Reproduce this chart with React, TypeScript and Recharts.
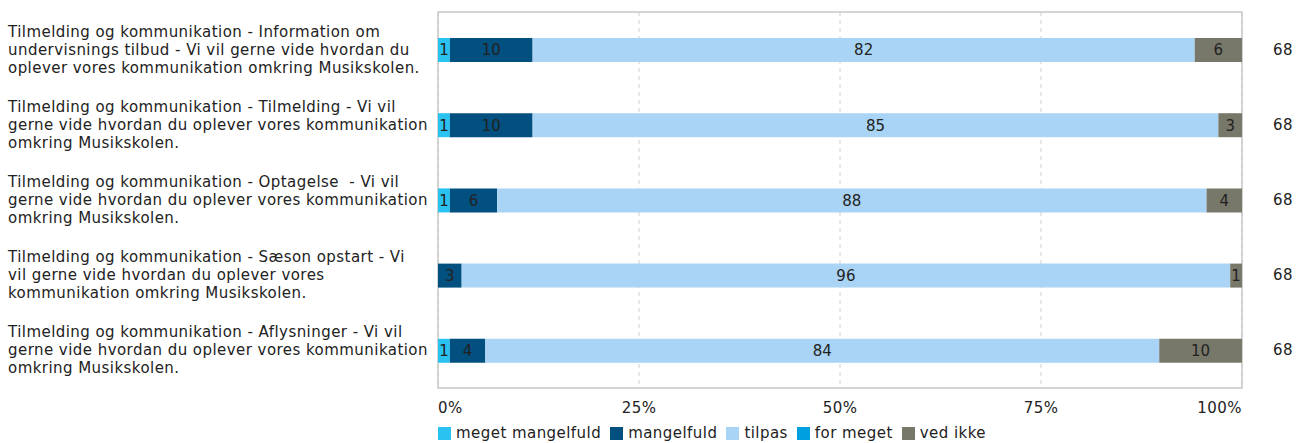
import React from 'react';
import { BarChart, Bar, XAxis, YAxis, CartesianGrid, Legend, LabelList, ReferenceArea } from 'recharts';

// questions, one line of the label per string
const questions = [
    ['Tilmelding og kommunikation - Information om', 'undervisnings tilbud - Vi vil gerne vide hvordan du', 'oplever vores kommunikation omkring Musikskolen.'],
    ['Tilmelding og kommunikation - Tilmelding - Vi vil', 'gerne vide hvordan du oplever vores kommunikation', 'omkring Musikskolen.'],
    ['Tilmelding og kommunikation - Optagelse  - Vi vil', 'gerne vide hvordan du oplever vores kommunikation', 'omkring Musikskolen.'],
    ['Tilmelding og kommunikation - Sæson opstart - Vi', 'vil gerne vide hvordan du oplever vores', 'kommunikation omkring Musikskolen.'],
    ['Tilmelding og kommunikation - Aflysninger - Vi vil', 'gerne vide hvordan du oplever vores kommunikation', 'omkring Musikskolen.'],
];

// number of answers per category
const megetMangelfuld = [1, 1, 1, 0, 1];
const mangelfuld = [7, 7, 4, 2, 3];
const tilpas = [56, 58, 60, 65, 57];
const forMeget = [0, 0, 0, 0, 0];
const vedIkke = [4, 2, 3, 1, 7];

const xTicks = [0, 0.25, 0.5, 0.75, 1];

const series = [
    { key: 'mm', name: 'meget mangelfuld', color: '#2ac3f1', values: megetMangelfuld },
    { key: 'm', name: 'mangelfuld', color: '#02507f', values: mangelfuld },
    { key: 't', name: 'tilpas', color: '#a9d4f5', values: tilpas },
    { key: 'fm', name: 'for meget', color: '#009fe0', values: forMeget },
    { key: 'vi', name: 'ved ikke', color: '#78786a', values: vedIkke },
];

const FONT = '"DejaVu Sans", Verdana, sans-serif';
const TEXT = '#222';
const LS = 0.45;

const data = questions.map((lines, i) => {
    const total = series.reduce((s, se) => s + se.values[i], 0);
    const row: any = { name: lines.join(' '), lines, total };
    series.forEach((se) => {
        row[se.key] = se.values[i];
        row['p_' + se.key] = se.values[i] > 0 ? String(Math.round((se.values[i] / total) * 100)) : '';
    });
    return row;
});

const LeftTick = (props: any) => {
    const { y, payload } = props;
    const row = data.find((d) => d.name === payload.value);
    const lines: string[] = row ? row.lines : [payload.value];
    const lh = 18;
    const start = y - ((lines.length - 1) * lh) / 2;
    return (
        <text x={8} y={start} fill={TEXT} fontSize={15} fontFamily={FONT} letterSpacing={LS} textAnchor="start" dominantBaseline="central" style={{ whiteSpace: 'pre' }}>
            {lines.map((l, i) => (
                <tspan key={i} x={8} y={start + i * lh}>{l}</tspan>
            ))}
        </text>
    );
};

const RightTick = (props: any) => {
    const { y, payload } = props;
    const row = data.find((d) => d.name === payload.value);
    return (
        <text x={1283} y={y} fill={TEXT} fontSize={15} fontFamily={FONT} letterSpacing={LS} textAnchor="middle" dominantBaseline="central">
            {row ? row.total : ''}
        </text>
    );
};

const XTick = (props: any) => {
    const { x, y, payload } = props;
    const v = payload.value;
    const anchor = v === 0 ? 'start' : v === 1 ? 'end' : 'middle';
    return (
        <text x={x} y={y + 12} fill={TEXT} fontSize={15} fontFamily={FONT} letterSpacing={LS} textAnchor={anchor} dominantBaseline="central">
            {Math.round(v * 100) + '%'}
        </text>
    );
};

const LegendContent = () => (
    <div style={{ display: 'flex', fontFamily: FONT, fontSize: 15, lineHeight: '15px', letterSpacing: LS, color: TEXT, whiteSpace: 'nowrap' }}>
        {series.map((s) => (
            <div key={s.key} style={{ display: 'flex', alignItems: 'center', marginRight: 9 }}>
                <span style={{ display: 'inline-block', width: 13, height: 13, background: s.color, marginRight: 5 }} />
                <span>{s.name}</span>
            </div>
        ))}
    </div>
);

const App: React.FC = () => {
    return (
        <div style={{ position: 'absolute', left: 0, top: 0, width: 1296, height: 443, background: '#fff' }}>
            <BarChart
                width={1296}
                height={443}
                data={data}
                layout="vertical"
                stackOffset="expand"
                barSize={24}
                margin={{ top: 12, right: 0, left: 8, bottom: 25 }}
            >
                <CartesianGrid horizontal={false} vertical stroke="#d0d0d0" strokeDasharray="4 4" />
                <XAxis
                    type="number"
                    domain={[0, 1]}
                    ticks={xTicks}
                    tick={<XTick />}
                    axisLine={false}
                    tickLine={false}
                    height={30}
                    interval={0}
                />
                <YAxis yAxisId="left" type="category" dataKey="name" width={430} tick={<LeftTick />} axisLine={false} tickLine={false} interval={0} />
                <YAxis yAxisId="right" orientation="right" type="category" dataKey="name" width={54} tick={<RightTick />} axisLine={false} tickLine={false} interval={0} />
                <ReferenceArea yAxisId="left" x1={0} x2={1} fill="none" stroke="#c8c8c8" strokeWidth={1.5} />
                {series.map((s) => (
                    <Bar key={s.key} yAxisId="left" dataKey={s.key} name={s.name} stackId="a" fill={s.color} isAnimationActive={false}>
                        <LabelList dataKey={'p_' + s.key} position="center" fill={TEXT} fontSize={15} fontFamily={FONT} />
                    </Bar>
                ))}
                <Legend
                    layout="horizontal"
                    verticalAlign="middle"
                    align="center"
                    content={<LegendContent />}
                    wrapperStyle={{ top: 426, left: 438, width: 'auto' }}
                />
            </BarChart>
        </div>
    );
};

export default App;
